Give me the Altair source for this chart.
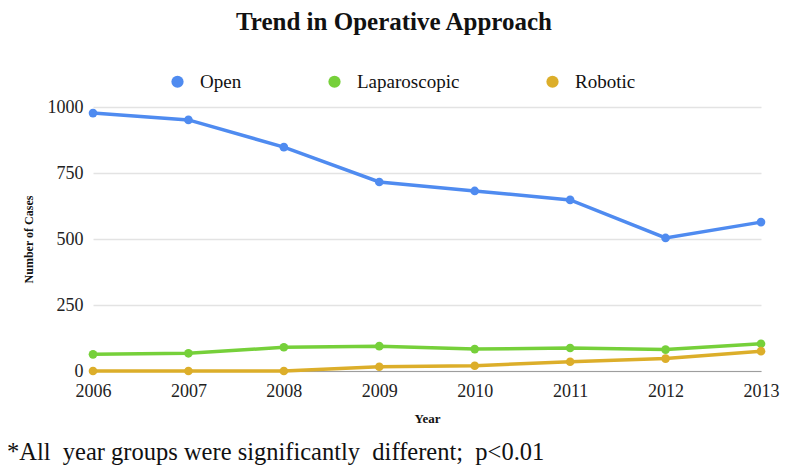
import altair as alt
import pandas as pd

years = [2006, 2007, 2008, 2009, 2010, 2011, 2012, 2013]
open_cases = [977, 951, 848, 716, 682, 648, 504, 564]
lap_cases = [63, 67, 90, 94, 83, 87, 81, 103]
rob_cases = [0, 0, 0, 16, 20, 35, 47, 75]
series = ["Open", "Laparoscopic", "Robotic"]
colors = ["#4f8bf0", "#76d03a", "#dcae2a"]
footnote = "*All\u00a0 year groups were significantly\u00a0 different;\u00a0 p<0.01"

rows = []
for name, vals in zip(series, [open_cases, lap_cases, rob_cases]):
    for yr, v in zip(years, vals):
        rows.append({"Year": yr, "Cases": v, "Approach": name})
df = pd.DataFrame(rows)

SERIF = "Liberation Serif"
W, H = 668, 264

x = alt.X("Year:Q",
          scale=alt.Scale(domain=[2006, 2013], nice=False, zero=False),
          axis=alt.Axis(values=years, format="d", grid=False, ticks=False,
                        labelFlush=False,
                        domainColor="#9e9e9e", domainWidth=1,
                        labelFont=SERIF, labelFontSize=18, labelColor="#222",
                        labelPadding=11, title="Year", titleFont=SERIF,
                        titleFontSize=13, titleFontWeight="bold",
                        titleColor="#111", titlePadding=12))
y = alt.Y("Cases:Q",
          scale=alt.Scale(domain=[0, 1000], nice=False),
          axis=alt.Axis(values=[0, 250, 500, 750, 1000], format="d", grid=True,
                        gridColor="#e3e3e3", gridWidth=1.5, domain=False,
                        ticks=False, labelFont=SERIF, labelFontSize=18,
                        labelColor="#222", labelPadding=10,
                        title="Number of Cases", titleFont=SERIF,
                        titleFontSize=12, titleFontWeight="bold",
                        titleColor="#111", titlePadding=12))
color = alt.Color("Approach:N",
                  scale=alt.Scale(domain=series, range=colors),
                  sort=series,
                  legend=alt.Legend(title=None, orient="none", direction="horizontal",
                                    legendX=75, legendY=-35,
                                    symbolType="circle", symbolSize=150,
                                    symbolStrokeWidth=0, labelFont=SERIF,
                                    labelFontSize=19, labelColor="#111",
                                    labelOffset=13, columnPadding=83))

base = alt.Chart(df).encode(x=x, y=y, color=color,
                            order=alt.Order("Year:Q"))
lines = base.mark_line(strokeWidth=3.5)
points = base.mark_point(filled=True, size=75, opacity=1)

note = alt.Chart(pd.DataFrame({"t": [footnote]})).mark_text(
    align="left", baseline="alphabetic", font=SERIF, fontSize=24.5, color="#111"
).encode(text="t:N", x=alt.value(-86), y=alt.value(H + 89))

chart = alt.layer(lines, points, note).properties(
    width=W, height=H,
    title=alt.TitleParams("Trend in Operative Approach", font=SERIF,
                          fontSize=25, fontWeight="bold", color="#111",
                          anchor="middle", dx=-33, offset=37),
    autosize=alt.AutoSizeParams(type="none"),
    padding={"left": 85, "top": 99, "right": 19, "bottom": 95},
).configure_view(stroke=None)

chart.save("out.html", embed_options={"renderer": "svg", "actions": False})
